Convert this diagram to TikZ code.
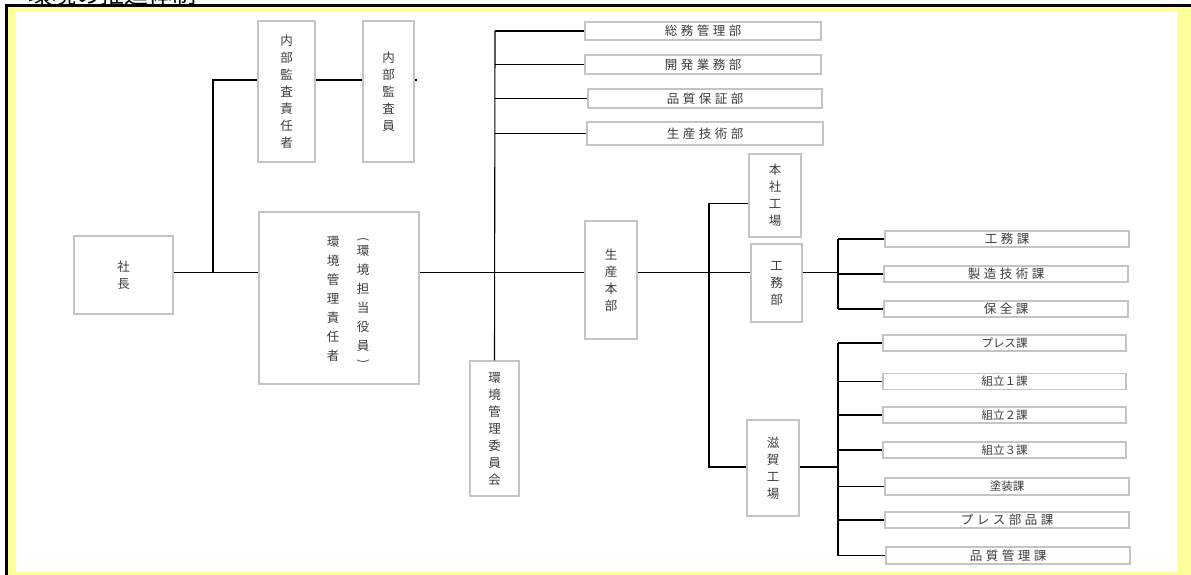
\documentclass[tikz,border=0pt]{standalone}
\usepackage{fontspec}
\newfontfamily\jp{Noto Sans CJK JP}
\definecolor{boxgray}{HTML}{C4C4C4}
\definecolor{txt}{HTML}{3C3C3C}
\definecolor{frameyellow}{HTML}{FFFF99}
\begin{document}
\begin{tikzpicture}[x=1pt,y=-1pt,
  box/.style={draw=boxgray, line width=1.3pt, fill=white, inner sep=0pt, align=center, text=txt, font=\jp\fontsize{12.5}{17}\selectfont},
  hbox/.style={box, font=\jp\fontsize{12.5}{14}\selectfont\addfontfeatures{LetterSpace=28}},
  tbox/.style={box, font=\jp\fontsize{11.5}{14}\selectfont},
  vtxt/.style={inner sep=0pt, align=center, text=txt, font=\jp\fontsize{12.5}{19}\selectfont, anchor=north},
  conn/.style={line width=1.1pt, black}]
\useasboundingbox (0,0) rectangle (1191,575);
% frame
\fill[frameyellow] (8,7) rectangle (1191,575);
\fill[white] (16,11) rectangle (1177,572);
\fill[black] (5,4) rectangle (1191,7);
\fill[black] (5,4) rectangle (8,575);
% clipped title
\begin{scope}
\clip (0,0) rectangle (1191,4);
\node[anchor=base west, inner sep=0pt, font=\jp\fontsize{24}{26}\selectfont] (title) at (28,4) {環境の推進体制};
\end{scope}
% nodes
\node[box, minimum width=57pt, minimum height=141pt] (ks) at (286.5,91.5) {内\\部\\監\\査\\責\\任\\者};
\node[box, minimum width=51pt, minimum height=141pt] (ki) at (388.5,91.5) {内\\部\\監\\査\\員};
\node[box, minimum width=99pt, minimum height=78pt] (sc) at (123.5,275) {社\\長};
\node[box, minimum width=160pt, minimum height=172pt] (km) at (339,298) {};
\node[vtxt] (kmA) at (333,236) {環\\境\\管\\理\\責\\任\\者};
\node[vtxt] (kmB) at (363,245) {環\\境\\担\\当\\役\\員};
\node[inner sep=0pt, text=txt, font=\jp\fontsize{12}{13}\selectfont, rotate=-90] (kmP1) at (363,240) {(};
\node[inner sep=0pt, text=txt, font=\jp\fontsize{12}{13}\selectfont, rotate=-90] (kmP2) at (363,362) {)};
\node[box, minimum width=49pt, minimum height=135pt] (ii) at (494.5,428.5) {環\\境\\管\\理\\委\\員\\会};
\node[hbox, minimum width=236pt, minimum height=18pt] (so) at (703,31) {総務管理部};
\node[hbox, minimum width=236pt, minimum height=19pt] (ka) at (703,64.5) {開発業務部};
\node[hbox, minimum width=234pt, minimum height=19pt] (hs) at (705,98.5) {品質保証部};
\node[hbox, minimum width=236pt, minimum height=23pt] (sg) at (705,133.5) {生産技術部};
\node[box, minimum width=52pt, minimum height=118pt] (sh) at (611,280) {生\\産\\本\\部};
\node[box, minimum width=52pt, minimum height=83pt] (hk) at (775,195.5) {本\\社\\工\\場};
\node[box, minimum width=51pt, minimum height=78pt] (kb) at (776.5,283) {工\\務\\部};
\node[box, minimum width=52pt, minimum height=96pt] (sk) at (773,468) {滋\\賀\\工\\場};
\node[hbox, minimum width=244pt, minimum height=16pt] (c1) at (1007,239) {工務課};
\node[hbox, minimum width=244pt, minimum height=16pt] (c2) at (1006,274) {製造技術課};
\node[hbox, minimum width=244pt, minimum height=16pt] (c3) at (1006,309) {保全課};
\node[tbox, minimum width=243pt, minimum height=16pt] (d1) at (1004.5,343) {プレス課};
\node[tbox, minimum width=243pt, minimum height=16pt] (d2) at (1004.5,381.5) {組立１課};
\node[tbox, minimum width=243pt, minimum height=16pt] (d3) at (1004.5,415) {組立２課};
\node[tbox, minimum width=243pt, minimum height=16pt] (d4) at (1004.5,450) {組立３課};
\node[tbox, minimum width=244pt, minimum height=17pt] (d5) at (1007,486.5) {塗装課};
\node[hbox, minimum width=244pt, minimum height=16pt] (d6) at (1007,520) {プレス部品課};
\node[hbox, minimum width=244pt, minimum height=17pt] (d7) at (1008,555.5) {品質管理課};
% helper coordinates
\coordinate (M) at (0,272.5);
\coordinate (A) at (0,80);
\coordinate (J) at (213,0);
\coordinate (T) at (495,0);
\coordinate (V) at (709,300);
\coordinate (H) at (0,203.5);
\coordinate (S) at (0,467);
\coordinate (K) at (838,0);
% connectors
\draw[conn] (sc.east |- M) -- (km.west |- M);
\draw[conn] (J |- M) |- (ks.west |- A);
\draw[conn] (ks.east |- A) -- (ki.west |- A);
\draw[conn] (ki.east |- A) -- ++(2,0);
\draw[conn] (km.east |- M) -- (sh.west |- M);
\draw[conn] (T |- so.west) -- (ii.north);
\foreach \n in {so,ka,hs,sg} \draw[conn] (T |- \n.west) -- (\n.west);
\draw[conn] (sh.east |- M) -- (kb.west |- M);
\draw[conn] (hk.west |- H) -| (V) |- (sk.west |- S);
\draw[conn] (kb.east |- M) -- (K |- M);
\draw[conn] (K |- c1.west) -- (K |- c3.west);
\foreach \n in {c1,c2,c3} \draw[conn] (K |- \n.west) -- (\n.west);
\draw[conn] (sk.east |- S) -- (K |- S);
\draw[conn] (K |- d1.west) -- (K |- d7.west);
\foreach \n in {d1,d2,d3,d4,d5,d6,d7} \draw[conn] (K |- \n.west) -- (\n.west);
\end{tikzpicture}
\end{document}
